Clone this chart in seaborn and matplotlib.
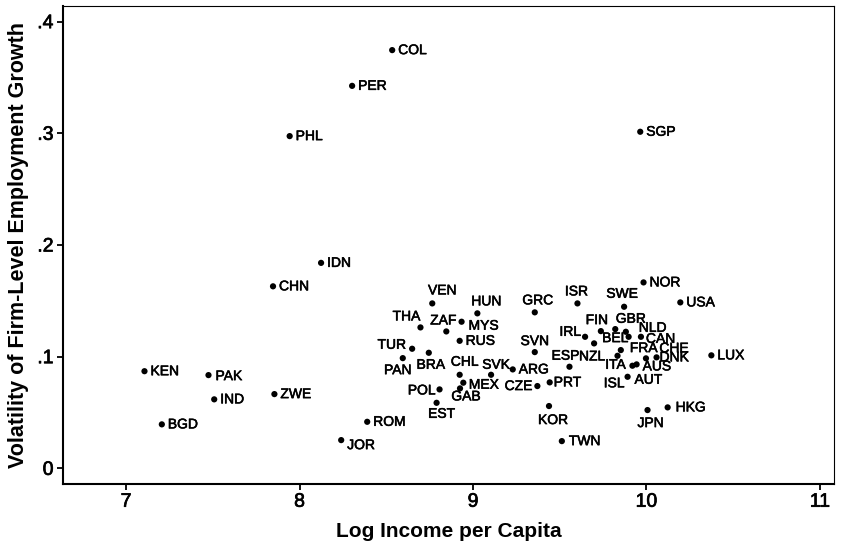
import matplotlib
matplotlib.use("Agg")
import matplotlib.pyplot as plt
import matplotlib.patheffects as pe
import seaborn as sns
import pandas as pd

# ---------------- data ----------------
countries = ["COL", "PER", "PHL", "SGP", "IDN", "CHN", "KEN", "PAK", "IND", "ZWE",
             "BGD", "ROM", "JOR", "VEN", "HUN", "GRC", "ISR", "SWE", "NOR", "USA",
             "THA", "ZAF", "MYS", "RUS", "TUR", "PAN", "BRA", "CHL", "SVK", "ARG",
             "MEX", "GAB", "POL", "EST", "CZE", "PRT", "SVN", "ESP", "KOR", "TWN",
             "IRL", "NZL", "FIN", "BEL", "GBR", "NLD", "CAN", "FRA", "ITA", "AUT",
             "AUS", "CHE", "DNK", "ISL", "LUX", "HKG", "JPN"]
log_income = [8.534, 8.303, 7.943, 9.964, 8.124, 7.847, 7.106, 7.475, 7.508, 7.855,
              7.206, 8.390, 8.240, 8.765, 9.025, 9.356, 9.602, 9.871, 9.983, 10.195,
              8.697, 8.846, 8.934, 8.923, 8.649, 8.595, 8.745, 8.923, 9.104, 9.229,
              8.944, 8.925, 8.807, 8.790, 9.371, 9.442, 9.356, 9.556, 9.438, 9.512,
              9.646, 9.698, 9.737, 9.820, 9.881, 9.897, 9.968, 9.852, 9.833, 9.919,
              9.943, 9.997, 10.058, 9.891, 10.374, 10.122, 10.006]
volatility = [0.3745, 0.3425, 0.2975, 0.3014, 0.1840, 0.1630, 0.0870, 0.0835, 0.0618, 0.0665,
              0.0394, 0.0417, 0.0253, 0.1477, 0.1388, 0.1397, 0.1477, 0.1447, 0.1665, 0.1486,
              0.1262, 0.1226, 0.1313, 0.1142, 0.1071, 0.0987, 0.1035, 0.0838, 0.0838, 0.0886,
              0.0767, 0.0716, 0.0707, 0.0587, 0.0737, 0.0770, 0.1041, 0.0910, 0.0558, 0.0244,
              0.1178, 0.1119, 0.1229, 0.1247, 0.1223, 0.1178, 0.1178, 0.1059, 0.1008, 0.0919,
              0.0931, 0.0985, 0.0994, 0.0820, 0.1012, 0.0546, 0.0522]
x_ticks = [7, 8, 9, 10, 11]
x_tick_labels = ["7", "8", "9", "10", "11"]
y_ticks = [0, 0.1, 0.2, 0.3, 0.4]
y_tick_labels = ["0", ".1", ".2", ".3", ".4"]

# ------------- label placement (pixels: ha, dx, dy[down]) -------------
default_place = ("left", 6, 0)
label_place = {
    "JOR": ("left", 6, 5), "PAK": ("left", 7, 1), "MYS": ("left", 7, 4),
    "MEX": ("left", 5.5, 2), "CAN": ("left", 5, 2), "FRA": ("left", 9, -2),
    "AUS": ("left", 6, 2), "DNK": ("left", 3, 0), "PRT": ("left", 4, 0),
    "HKG": ("left", 8, 0), "TWN": ("left", 7, 0),
    "VEN": ("center", 10, -13), "HUN": ("center", 9, -12), "GRC": ("center", 3, -12),
    "ISR": ("center", -1, -12), "THA": ("center", -14, -11), "ZAF": ("center", -3, -11),
    "CHL": ("center", 5, -13), "SVK": ("center", 5, -10), "SVN": ("center", 0, -11),
    "ESP": ("center", -4, -11), "FIN": ("center", -4, -11), "GBR": ("center", 5, -13),
    "NLD": ("center", 24, -9), "CHE": ("center", 28, -10), "SWE": ("center", -2, -13),
    "PAN": ("center", -5, 12), "BRA": ("center", 2, 12), "GAB": ("center", 6, 8),
    "EST": ("center", 5, 11), "KOR": ("center", 4, 14), "NZL": ("center", -2, 13),
    "BEL": ("center", 0, 9), "ITA": ("center", -2, 9), "AUT": ("center", 16, 14),
    "JPN": ("center", 3, 13),
    "TUR": ("right", -6, -4), "POL": ("right", -4, 1), "CZE": ("right", -5, 0),
    "IRL": ("right", -4, -5), "ISL": ("right", -3, 6.5),
}

df = pd.DataFrame({"country": countries, "log_income": log_income, "volatility": volatility})

sns.set_theme(style="white")
plt.rcParams["font.family"] = ["Liberation Sans", "DejaVu Sans"]
plt.rcParams["text.color"] = "black"
plt.rcParams["axes.labelcolor"] = "black"

W, H = 846, 550
fig = plt.figure(figsize=(W / 100, H / 100), dpi=100)
ax = fig.add_axes([63.3 / W, (H - 484) / H, (834 - 63.3) / W, (484 - 6) / H])

sns.scatterplot(data=df, x="log_income", y="volatility", ax=ax, color="black",
                s=20, edgecolor="none", linewidth=0, legend=False)

px = 0.72  # points per pixel at 100 dpi
heavy = [pe.withStroke(linewidth=0.4, foreground="black")]
for c, xv, yv in zip(countries, log_income, volatility):
    ha, dx, dy = label_place.get(c, default_place)
    ax.annotate(c, (xv, yv), xytext=(dx * px, -dy * px), textcoords="offset points",
                ha=ha, va="center", fontsize=10, color="black", path_effects=heavy)

ax.set_xlim(6.638, 11.081)
ax.set_ylim(-0.014, 0.414)
ax.set_xticks(x_ticks)
ax.set_xticklabels(x_tick_labels)
ax.set_yticks(y_ticks)
ax.set_yticklabels(y_tick_labels)
ax.tick_params(axis="both", which="major", direction="out", length=4, width=1.3,
               labelsize=14, colors="black", pad=3, left=True, bottom=True)
for t in ax.get_xticklabels() + ax.get_yticklabels():
    t.set_path_effects([pe.withStroke(linewidth=0.5, foreground="black")])
ax.set_xlabel("Log Income per Capita", fontsize=15, fontweight="bold", labelpad=8,
              color="black")
ax.set_ylabel("Volatility of Firm-Level Employment Growth", fontsize=15.5,
              fontweight="bold", labelpad=6, color="black")

for side in ["left", "bottom"]:
    ax.spines[side].set_linewidth(1.5)
    ax.spines[side].set_color("black")
for side in ["top", "right"]:
    ax.spines[side].set_linewidth(0.8)
    ax.spines[side].set_color("black")
ax.grid(False)

fig.savefig("out.png", dpi=100)
